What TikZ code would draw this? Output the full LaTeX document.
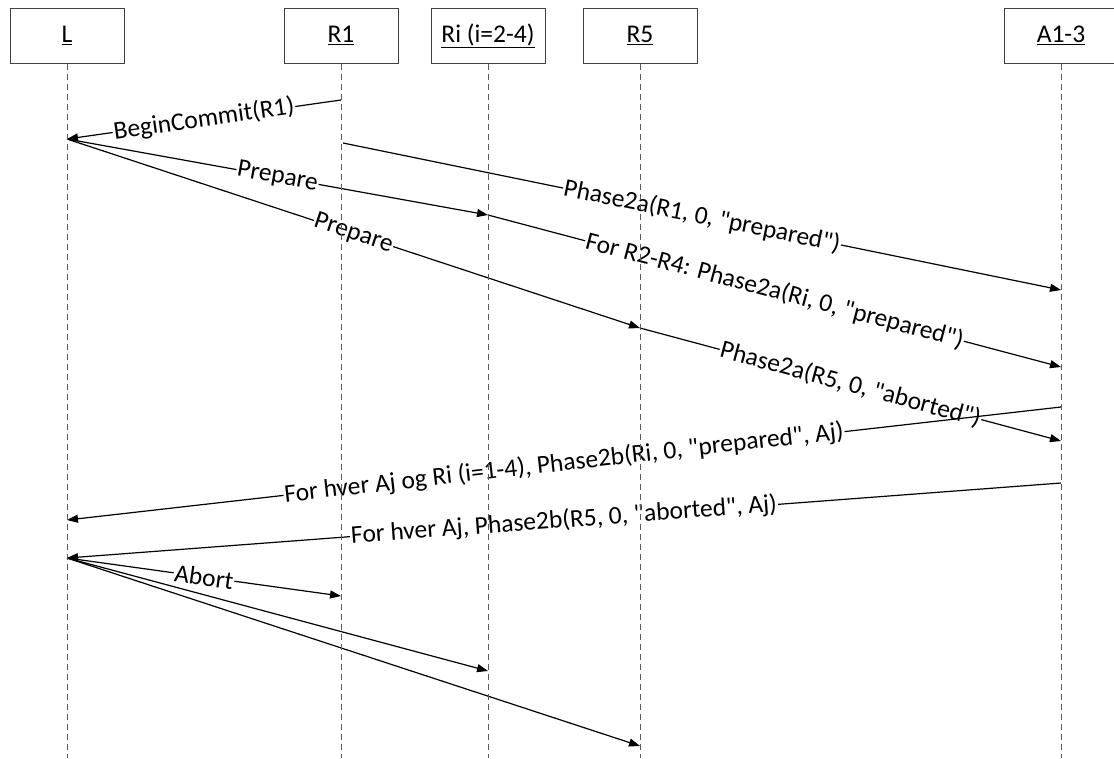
\documentclass[tikz,border=0pt]{standalone}
\usepackage{fontspec}
\setmainfont{Carlito}[Ligatures=TeXOff]
\usetikzlibrary{arrows.meta}
\definecolor{lifegray}{RGB}{90,90,90}
\definecolor{boxgray}{RGB}{64,64,64}
\begin{document}
\begin{tikzpicture}[x=1pt,y=-1pt,
  actor/.style={draw=boxgray, line width=1pt, minimum width=114pt, minimum height=55pt,
    inner sep=0pt, font=\fontsize{25.5}{30}\selectfont},
  lifeline/.style={draw=lifegray, line width=0.9pt, dash pattern=on 6pt off 4pt},
  msg/.style={draw=black, line width=1.2pt, -{Triangle[length=11pt,width=8pt]}},
  lbl/.style={midway, sloped, fill=white, inner sep=1pt, font=\fontsize{25.5}{30}\selectfont}
]
\useasboundingbox (0,0) rectangle (1114,758);

% participants
\node[actor] (L)  at (67,35.5)   {\underline{L}};
\node[actor] (R1) at (341,35.5)  {\underline{R1}};
\node[actor] (Ri) at (488,35.5)  {\underline{Ri (i=2-4)}};
\node[actor] (R5) at (640,35.5)  {\underline{R5}};
\node[actor] (A)  at (1061,35.5) {\underline{A1-3}};

% bottom ends of the lifelines
\coordinate (Lend)  at (67,758);
\coordinate (R1end) at (341,758);
\coordinate (Riend) at (488,758);
\coordinate (R5end) at (640,758);
\coordinate (Aend)  at (1061,758);

% message end points on the lifelines
\coordinate (r1a) at (341,100);
\coordinate (la)  at (67,139);
\coordinate (r1b) at (343,143);
\coordinate (aa)  at (1061,290);
\coordinate (ria) at (488,215);
\coordinate (ab)  at (1061,367);
\coordinate (r5a) at (640,328);
\coordinate (ac)  at (1061,441);
\coordinate (ad)  at (1061,407);
\coordinate (lb)  at (67,520);
\coordinate (ae)  at (1061,483);
\coordinate (lc)  at (67,558);
\coordinate (r1c) at (341,596);
\coordinate (rib) at (488,671);
\coordinate (r5b) at (640,746);

% messages
\draw[msg] (r1a) -- (la) node[lbl] {BeginCommit(R1)};
\draw[msg] (r1b) -- (aa) node[lbl] {Phase2a(R1, 0, "prepared")};
\draw[msg] (la) -- (ria) node[lbl] {Prepare};
\draw[msg] (ria) -- (ab) node[lbl] {For R2-R4: Phase2a(Ri, 0, "prepared")};
\draw[msg] (la) -- (r5a) node[lbl] {Prepare};
\draw[msg] (r5a) -- (ac) node[lbl] {Phase2a(R5, 0, "aborted")};
\draw[msg] (ad) -- (lb) node[lbl] {For hver Aj og Ri (i=1-4), Phase2b(Ri, 0, "prepared", Aj)};
\draw[msg] (ae) -- (lc) node[lbl] {For hver Aj, Phase2b(R5, 0, "aborted", Aj)};
\draw[msg] (lc) -- (r1c) node[lbl] {Abort};
\draw[msg] (lc) -- (rib);
\draw[msg] (lc) -- (r5b);

% lifelines
\draw[lifeline] (L.south)  -- (Lend);
\draw[lifeline] (R1.south) -- (R1end);
\draw[lifeline] (Ri.south) -- (Riend);
\draw[lifeline] (R5.south) -- (R5end);
\draw[lifeline] (A.south)  -- (Aend);
\end{tikzpicture}
\end{document}
